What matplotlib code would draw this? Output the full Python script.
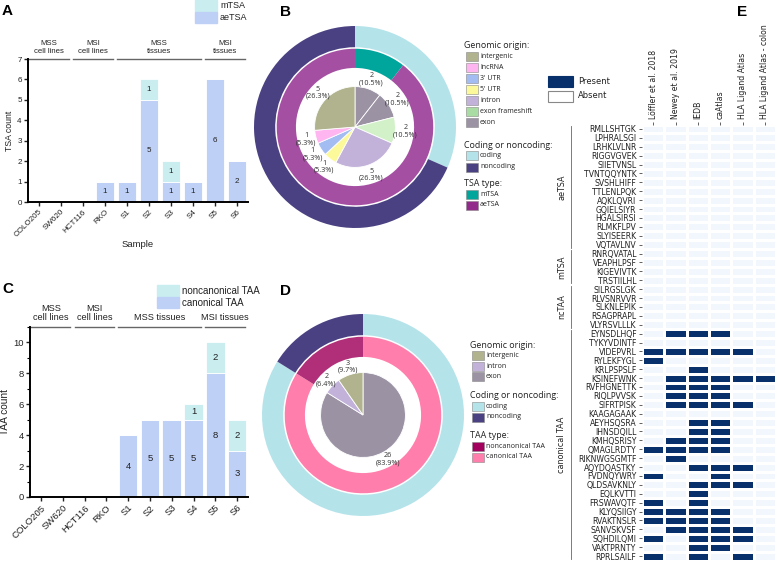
import matplotlib
matplotlib.use("Agg")
import matplotlib.pyplot as plt
import matplotlib.transforms as mtransforms
from matplotlib.patches import Rectangle
from matplotlib.colors import ListedColormap
import numpy as np

W, H = 777, 562

# ---- panels A / C data ----
samples = ["COLO205", "SW620", "HCT116", "RKO", "S1", "S2", "S3", "S4", "S5", "S6"]
headers_a = [("MSS\ncell lines", 0, 1), ("MSI\ncell lines", 2, 3),
             ("MSS\ntissues", 4, 7), ("MSI\ntissues", 8, 9)]
headers_c = [("MSS\ncell lines", 0, 1), ("MSI\ncell lines", 2, 3),
             ("MSS tissues", 4, 7), ("MSI tissues", 8, 9)]
ae_tsa = [0, 0, 0, 1, 1, 5, 1, 1, 6, 2]
m_tsa = [0, 0, 0, 0, 0, 1, 1, 0, 0, 0]
canon_taa = [0, 0, 0, 0, 4, 5, 5, 5, 8, 3]
noncanon_taa = [0, 0, 0, 0, 0, 0, 0, 1, 2, 2]

# ---- panel B data (clockwise from top) ----
tsa_origin = ["exon", "exon", "exon frameshift", "intron", "5' UTR", "3' UTR", "lncRNA", "intergenic"]
tsa_origin_n = [2, 2, 2, 5, 1, 1, 1, 5]
tsa_type = ["mTSA", "aeTSA"]
tsa_type_n = [2, 17]
tsa_coding = ["coding", "noncoding"]
tsa_coding_n = [6, 13]

# ---- panel D data (clockwise from top) ----
taa_origin = ["exon", "intron", "intergenic"]
taa_origin_n = [26, 2, 3]
taa_origin_pct = [83.9, 6.4, 9.7]
taa_type = ["canonical TAA", "noncanonical TAA"]
taa_type_n = [26, 5]
taa_coding = ["coding", "noncoding"]
taa_coding_n = [26, 5]

# ---- panel E data ----
sources = ["Löffler et al. 2018", "Newey et al. 2019", "IEDB", "caAtlas",
           "HLA Ligand Atlas", "HLA Ligand Atlas - colon"]
peptides = ["RMLLSHTGK", "LPHRALSGI", "LRHKLVLNR", "RIGGVGVEK", "SIIETVNSL", "TVNTQQYNTK",
            "SVSHLHIFF", "TTLENLPQK", "AQKLQVRI", "GQIELSIYR", "HGALSIRSI", "RLMKFLPV",
            "SLYISEERK", "VQTAVLNV",
            "RNRQVATAL", "VEAPHLPSF", "KIGEVIVTK", "TRSTIILHL",
            "SILRGSLGK", "RLVSNRVVR", "SLKNLEPIK", "RSAGPRAPL", "VLYRSVLLLK",
            "EYNSDLHQF", "TYKYVDINTF", "VIDEPVRL", "RYLEKFYGL", "KRLPSPSLF", "KSINEFWNK",
            "RVFHGNETTK", "RIQLPVVSK", "SIFRTPISK", "KAAGAGAAK", "AEYHSQSRA", "IHNSDQILL",
            "KMHQSRISY", "QMAGLRDTY", "RIKNWGSGMTF", "AQYDQASTKY", "FVDNQYWRY", "QLDSAVKNLY",
            "EQLKVTTI", "FRSWAVQTF", "KLYQSIIGY", "RVAKTNSLR", "SANVSKVSF", "SQHDILQMI",
            "VAKTPRNTY", "RPRLSAILF"]
pep_groups = [("aeTSA", 14), ("mTSA", 4), ("ncTAA", 5), ("canonical TAA", 26)]
# source columns where each peptide was found (same order as peptides)
hits = [[]] * 23 + [
    [1, 2, 3], [], [0, 1, 2, 3, 4], [0], [2], [1, 2, 3, 4, 5],
    [1, 2, 3], [1, 2, 3], [1, 2, 3, 4], [], [2, 3], [2, 3],
    [1, 2, 3], [0, 1, 2, 3], [1], [2, 3, 4], [0, 3], [2, 3, 4],
    [2], [0, 2], [0, 1, 2, 3], [0, 1, 2, 3], [1, 2, 3, 4], [0, 2, 3, 4],
    [2, 3], [0, 2, 4]]

# colours
C_BLUE = "#bed0f6"
C_CYAN = "#caedf0"
C_CODING = "#b5e3ea"
C_NONCODING = "#4a4182"
ORIGIN_COL = {"intergenic": "#b0b38d", "lncRNA": "#ffb5f0", "3' UTR": "#a3bcf2",
              "5' UTR": "#fcf99b", "intron": "#c2b2da", "exon frameshift": "#a8dca3",
              "exon": "#9b92a4"}
PIE_COL = dict(ORIGIN_COL, **{"exon frameshift": "#d3f1c9"})

plt.rcParams["font.family"] = ["Liberation Sans", "DejaVu Sans"]
fig = plt.figure(figsize=(W / 100, H / 100), dpi=100)
fig.patch.set_facecolor("white")

ov = fig.add_axes([0, 0, 1, 1])
ov.set_xlim(0, W)
ov.set_ylim(H, 0)
ov.axis("off")
ov.patch.set_visible(False)


def rect(l, t, r, b):
    return [l / W, 1 - b / H, (r - l) / W, (b - t) / H]


def bar_panel(box, lower, upper, ymax, ylabel, headers, fs, major, xlabel=None):
    ax = fig.add_axes(box)
    x = np.arange(len(samples))
    ax.bar(x, lower, width=0.86, color=C_BLUE, edgecolor="white", linewidth=0.6)
    ax.bar(x, upper, bottom=lower, width=0.86, color=C_CYAN, edgecolor="white", linewidth=0.6)
    for i in x:
        if lower[i]:
            ax.text(i, lower[i] / 2, str(lower[i]), ha="center", va="center", fontsize=fs, color="#222")
        if upper[i]:
            ax.text(i, lower[i] + upper[i] / 2, str(upper[i]), ha="center", va="center",
                    fontsize=fs, color="#222")
    ax.set_xlim(-0.5, len(samples) - 0.5)
    ax.set_ylim(0, ymax)
    ax.set_yticks(np.arange(0, ymax + 0.1, major))
    if major > 1:
        ax.set_yticks(np.arange(0, ymax + 0.1, 1), minor=True)
    ax.set_xticks(x, samples, rotation=45, ha="right", rotation_mode="anchor")
    for s in ("top", "right"):
        ax.spines[s].set_visible(False)
    for s in ("left", "bottom"):
        ax.spines[s].set_linewidth(1.4)
    ax.tick_params(labelsize=fs, length=3, width=1, pad=1.5, colors="#222")
    ax.tick_params(which="minor", length=2, width=0.8)
    ax.set_ylabel(ylabel, fontsize=fs + 0.5, labelpad=2, color="#222")
    if xlabel:
        ax.set_xlabel(xlabel, fontsize=fs + 1, labelpad=1, color="#222")
    trans = mtransforms.blended_transform_factory(ax.transData, ax.transAxes)
    for text, a, b in headers:
        x0, x1 = a - 0.45, b + 0.35
        ax.plot([x0, x1], [1.0, 1.0], transform=trans, clip_on=False, color="#666", lw=1.0)
        ax.text((x0 + x1) / 2, 1.03, text, transform=trans, ha="center", va="bottom",
                fontsize=fs - 0.2, linespacing=1.05, color="#222")
    return ax


bar_panel(rect(28, 59, 248, 202), ae_tsa, m_tsa, 7, "TSA count", headers_a, 5.8, 1, "Sample")
bar_panel(rect(30, 327, 248, 497), canon_taa, noncanon_taa, 11, "TAA count", headers_c, 6.8, 2)

# legends of A and C
for (x, y, labels, fs) in [(195, 0, ["mTSA", "aeTSA"], 6.5),
                           (157, 285, ["noncanonical TAA", "canonical TAA"], 7.0)]:
    for k, (lab, col) in enumerate(zip(labels, [C_CYAN, C_BLUE])):
        yy = y + k * 12
        ov.add_patch(Rectangle((x, yy), 22, 11, color=col))
        ov.text(x + 25, yy + 5.5, lab, ha="left", va="center", fontsize=fs, color="#222")


# ---- donut panels ----
def donut(cx, cy, size, rings, pie_vals, pie_cols, labels, label_r, pie_r):
    ax = fig.add_axes(rect(cx - size, cy - size, cx + size, cy + size))
    for vals, cols, r, w in rings:
        ax.pie(vals, colors=cols, radius=r, startangle=90, counterclock=False,
               wedgeprops=dict(width=w, linewidth=0))
    wedges, _ = ax.pie(pie_vals, colors=pie_cols, radius=pie_r, startangle=90, counterclock=False,
                       wedgeprops=dict(linewidth=0.6, edgecolor="white"))
    for wd, lab in zip(wedges, labels):
        ang = np.deg2rad((wd.theta1 + wd.theta2) / 2)
        ax.text(label_r * np.cos(ang), label_r * np.sin(ang), lab, ha="center", va="center",
                fontsize=5.2, color="#333", family="Open Sans", linespacing=1.05)
    lim = size / 101
    ax.set_xlim(-lim, lim)
    ax.set_ylim(-lim, lim)
    ax.set_aspect("equal")
    return ax


tot_b = sum(tsa_origin_n)
labels_b = [f"{n}\n({100 * n / tot_b:.1f}%)" for n in tsa_origin_n]
donut(355, 127, 108,
      [(tsa_coding_n, [C_CODING, C_NONCODING], 1.0, 0.21),
       (tsa_type_n, ["#00a59b", "#a54fa3"], 0.775, 0.19)],
      tsa_origin_n, [PIE_COL[o] for o in tsa_origin], labels_b, 0.5, 0.40)

labels_d = [f"{n}\n({p}%)" for n, p in zip(taa_origin_n, taa_origin_pct)]
donut(363, 415, 108,
      [(taa_coding_n, [C_CODING, C_NONCODING], 1.0, 0.21),
       (taa_type_n, ["#ff7eab", "#b02f78"], 0.775, 0.20)],
      taa_origin_n, [PIE_COL[o] for o in taa_origin], labels_d, 0.5, 0.42)


def side_legend(x, sections):
    for title, ty, entries, step in sections:
        ov.text(x - 2, ty, title, ha="left", va="center", fontsize=6.4, color="#222", family="Open Sans")
        for k, (lab, col) in enumerate(entries):
            yy = ty + 10.5 + k * step
            ov.add_patch(Rectangle((x, yy - 4.5), 12, 9, facecolor=col, edgecolor="#888", lw=0.4))
            ov.text(x + 14, yy, lab, ha="left", va="center", fontsize=5.0, color="#222",
                    family="Open Sans")


origin_b = ["intergenic", "lncRNA", "3' UTR", "5' UTR", "intron", "exon frameshift", "exon"]
side_legend(466, [("Genomic origin:", 46, [(o, ORIGIN_COL[o]) for o in origin_b], 11),
                  ("Coding or noncoding:", 145, [("coding", C_CODING), ("noncoding", C_NONCODING)], 11.5),
                  ("TSA type:", 184, [("mTSA", "#00a59b"), ("aeTSA", "#922a8c")], 10.5)])
side_legend(472, [("Genomic origin:", 345, [(o, ORIGIN_COL[o]) for o in ["intergenic", "intron", "exon"]], 10.5),
                  ("Coding or noncoding:", 396, [("coding", C_CODING), ("noncoding", C_NONCODING)], 10.5),
                  ("TAA type:", 436, [("noncanonical TAA", "#a3005e"), ("canonical TAA", "#ff7eab")], 10.5)])

# ---- panel E heatmap ----
ax = fig.add_axes(rect(642, 124.5, 776, 560.5))
mat = np.zeros((len(peptides), len(sources)))
for r, cols in enumerate(hits):
    mat[r, cols] = 1
ax.pcolormesh(mat, cmap=ListedColormap(["#f2f7fd", "#08306b"]), vmin=0, vmax=1,
              edgecolors="white", linewidth=0.8)
ax.set_xlim(0, len(sources))
ax.set_ylim(len(peptides), 0)
ax.set_yticks(np.arange(len(peptides)) + 0.5, peptides)
ax.xaxis.tick_top()
ax.set_xticks(np.arange(len(sources)) + 0.5, sources, rotation=90)
for s in ax.spines.values():
    s.set_visible(False)
ax.tick_params(labelsize=5.6, length=2.5, width=0.5, pad=1.5, colors="#222",
               labelfontfamily="DejaVu Sans")
trans = mtransforms.blended_transform_factory(ax.transAxes, ax.transData)
start = 0
for name, n in pep_groups:
    ax.plot([-0.53, -0.53], [start + 0.15, start + n - 0.15], transform=trans,
            clip_on=False, color="#666", lw=0.6)
    ax.text(-0.6, start + n / 2, name, transform=trans, rotation=90, ha="center", va="center",
            fontsize=5.8, color="#222", family="DejaVu Sans")
    start += n

for k, (lab, fc, ec) in enumerate([("Present", "#08306b", "#08306b"), ("Absent", "white", "#888")]):
    yy = 81 + k * 15
    ov.add_patch(Rectangle((548, yy - 5.5), 25, 11, facecolor=fc, edgecolor=ec, lw=0.8))
    ov.text(578, yy, lab, ha="left", va="center", fontsize=6, color="#222", family="DejaVu Sans")

# panel letters
for lab, x, y in [("A", 2, 11), ("B", 280, 12), ("C", 2, 289), ("D", 280, 291), ("E", 737, 12)]:
    ov.text(x, y, lab, ha="left", va="center", fontsize=11, fontweight="bold", color="black")

fig.savefig("out.png", dpi=100)
